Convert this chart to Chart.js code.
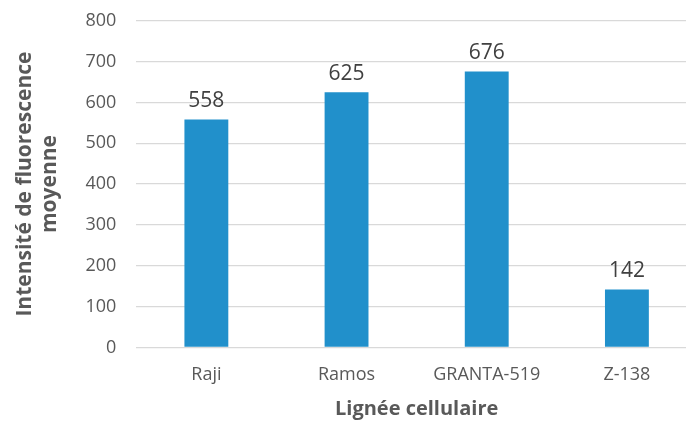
<!DOCTYPE html>
<html>
<head>
<meta charset="utf-8">
<script src="https://cdn.jsdelivr.net/npm/chart.js@4/dist/chart.umd.min.js"></script>
<style>
  html, body { margin: 0; padding: 0; background: #fff; overflow: hidden; }
  #wrap { width: 698px; height: 425px; overflow: hidden; }
  #c { display: block; margin-top: -10px; }
</style>
</head>
<body>
<div id="wrap"><canvas id="c" width="698" height="435"></canvas></div>
<script>
const categories = ['Raji', 'Ramos', 'GRANTA-519', 'Z-138'];
const intensities = [558, 625, 676, 142];
const yTicks = [0, 100, 200, 300, 400, 500, 600, 700, 800];

const FONT = "'Open Sans', 'DejaVu Sans', sans-serif";

// Writes each bar's value just above it
const valueLabels = {
  id: 'valueLabels',
  afterDatasetsDraw(chart) {
    const ctx = chart.ctx;
    const meta = chart.getDatasetMeta(0);
    ctx.save();
    ctx.fillStyle = '#404040';
    ctx.font = '21px ' + FONT;
    ctx.textAlign = 'center';
    ctx.textBaseline = 'bottom';
    meta.data.forEach((bar, i) => {
      ctx.fillText(String(chart.data.datasets[0].data[i]), bar.x, bar.y - 8);
    });
    ctx.restore();
  }
};

new Chart(document.getElementById('c'), {
  type: 'bar',
  data: {
    labels: categories,
    datasets: [{
      data: intensities,
      backgroundColor: '#2190cb',
      barPercentage: 0.313,
      categoryPercentage: 1.0
    }]
  },
  options: {
    responsive: false,
    animation: false,
    layout: { padding: { top: 0, left: 12, right: 1, bottom: 4 } },
    plugins: {
      legend: { display: false },
      tooltip: { enabled: false }
    },
    scales: {
      x: {
        grid: { display: false, drawTicks: false },
        border: { display: false },
        ticks: { color: '#595959', font: { family: FONT, size: 18 }, padding: 17 },
        title: {
          display: true,
          text: 'Lignée cellulaire',
          color: '#595959',
          font: { family: FONT, size: 20, weight: 'bold' },
          padding: { top: -6, bottom: 0 }
        }
      },
      y: {
        min: 0,
        max: 800,
        afterBuildTicks(axis) { axis.ticks = yTicks.map(v => ({ value: v })); },
        grid: { color: '#d9d9d9', lineWidth: 1.3, drawTicks: false },
        border: { display: false },
        ticks: { color: '#595959', font: { family: FONT, size: 18 }, padding: 20 },
        title: {
          display: true,
          text: ['Intensité de fluorescence', 'moyenne'],
          color: '#595959',
          font: { family: FONT, size: 21, weight: 'bold', lineHeight: 1.2 },
          padding: { top: 0, bottom: 3 }
        }
      }
    }
  },
  plugins: [valueLabels]
});
</script>
</body>
</html>
